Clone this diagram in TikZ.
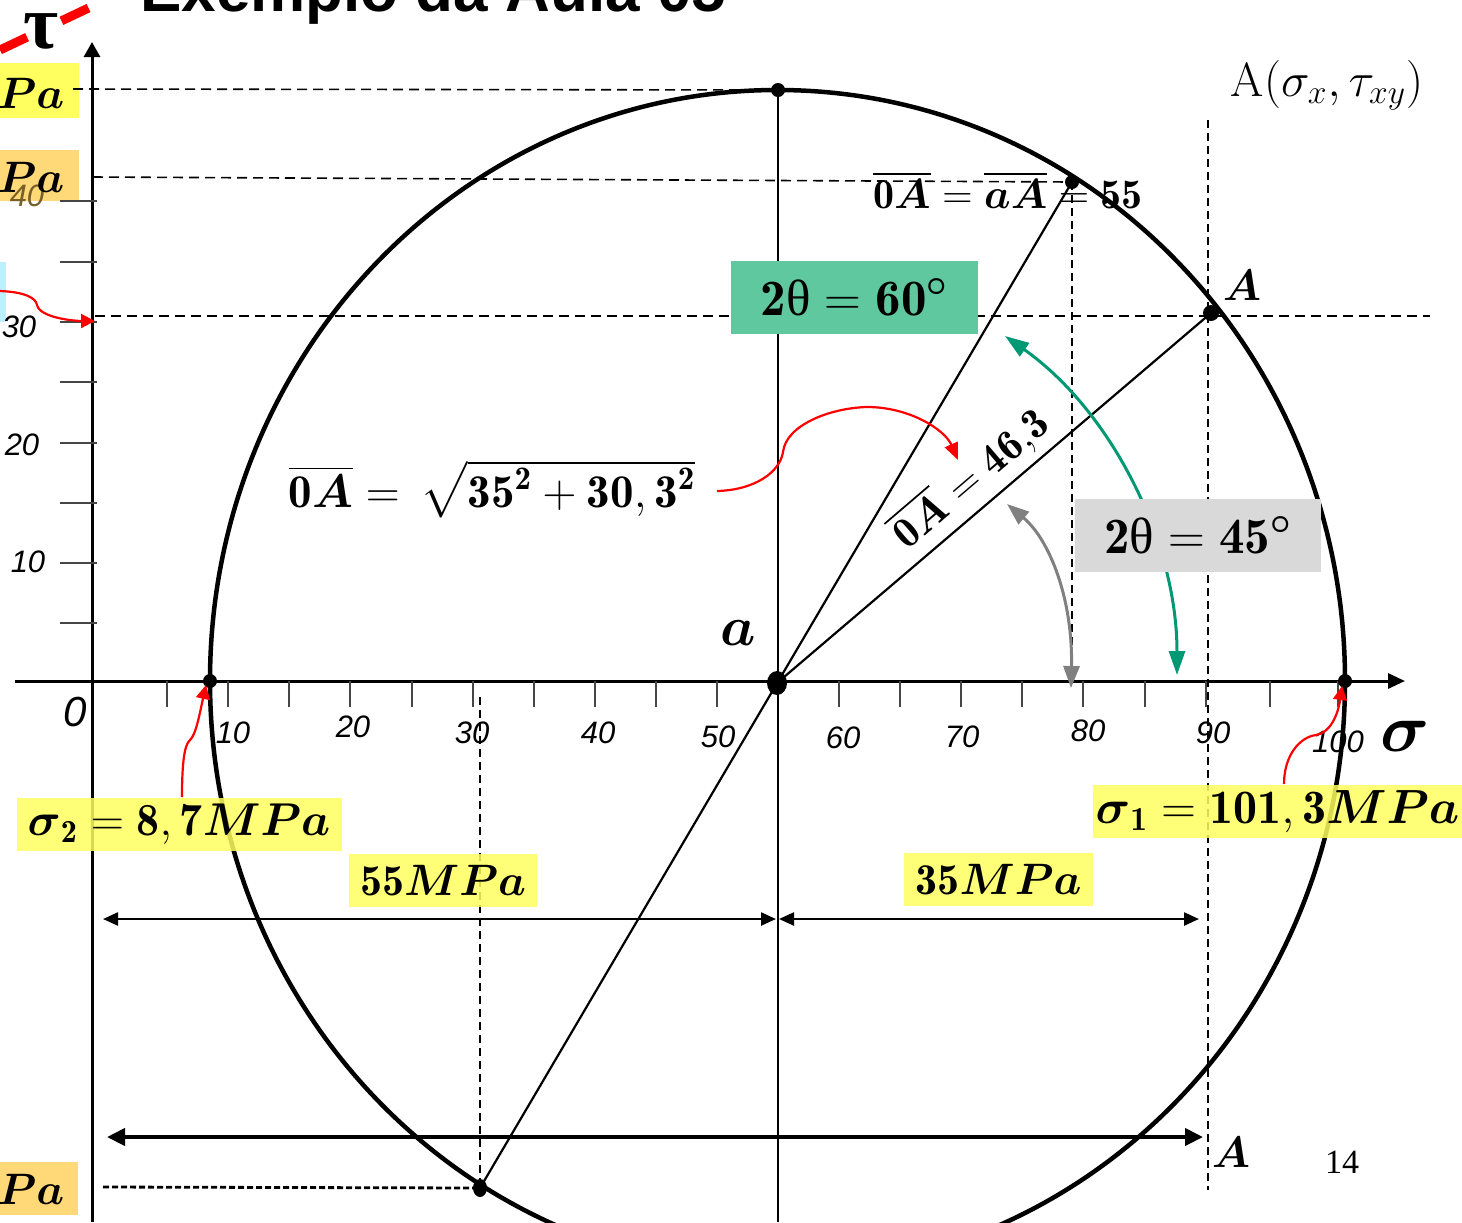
\RequirePackage{fix-cm}
\documentclass[tikz,border=0pt]{standalone}
\usepackage{amsmath,amssymb}
\usepackage{fontspec}
\usetikzlibrary{arrows.meta}
\newfontfamily\arialf{Liberation Sans}
\newfontfamily\timesf{Liberation Serif}
\definecolor{hlyellow}{RGB}{255,255,95}
\definecolor{hlorange}{RGB}{255,216,120}
\definecolor{hlgreen}{RGB}{95,200,158}
\definecolor{hlgrey}{RGB}{217,217,217}
\definecolor{tealc}{RGB}{0,153,115}
\definecolor{lblue}{RGB}{190,238,255}
\definecolor{tickgrey}{RGB}{70,70,70}
\definecolor{arrgrey}{RGB}{128,128,128}
\definecolor{dimbrown}{RGB}{120,95,40}
\begin{document}
\begin{tikzpicture}[x=0.5pt,y=-0.5pt,
  axisnum/.style={font=\arialf\itshape\fontsize{15.5}{18}\selectfont, inner sep=0pt},
  dline/.style={line width=0.8pt, dash pattern=on 5pt off 3pt},
  vdline/.style={line width=0.6pt, dash pattern=on 4pt off 2.5pt},
  tickline/.style={line width=0.75pt, draw=tickgrey},
  mlabel/.style={font=\fontsize{22}{26}\selectfont, inner sep=0pt},
  ybox/.style={fill=hlyellow, fill opacity=0.85, text opacity=1, inner sep=0pt, font=\fontsize{22}{26}\selectfont},
  redarrow/.style={draw=red, line width=1.1pt, -{Triangle[length=7pt,width=7pt]}},
  dimarrow/.style={line width=1.2pt, {Triangle[length=7.5pt,width=6.5pt]}-{Triangle[length=7.5pt,width=6.5pt]}},
  ptdot/.style={fill=black},
]
\useasboundingbox (0,0) rectangle (1462,1222);

% title and tau
\node[anchor=base west, inner sep=0pt, font=\arialf\bfseries\fontsize{31}{36}\selectfont] (title) at (140,11) {Exemplo da Aula 05};
\coordinate (redA) at (0,50);
\coordinate (redB) at (97,4);
\draw[red, line width=4.5pt, dash pattern=on 15pt off 19pt] (redA) -- (redB);
\node[inner sep=0pt, font=\timesf\bfseries\fontsize{38}{40}\selectfont] (tau) at (41,31) {τ};

% left side boxes
\node[fill=hlyellow, inner sep=0pt, minimum width=39.5pt, minimum height=27.5pt] (pabox1) at (39.5,90.5) {};
\node[fill=hlorange, inner sep=0pt, minimum width=39.5pt, minimum height=25.5pt] (pabox2) at (39.5,175.5) {};
\node[fill=hlorange, inner sep=0pt, minimum width=39pt, minimum height=26.5pt] (pabox3) at (39,1188.5) {};
\node[fill=lblue, inner sep=0pt, minimum width=3pt, minimum height=30pt] (bluebox) at (3,292) {};
\node[axisnum, text=dimbrown] (t40) at (27,196) {40};
\node[mlabel] (pa1) at (31,93) {$\boldsymbol{Pa}$};
\node[mlabel] (pa2) at (31,177) {$\boldsymbol{Pa}$};
\node[mlabel] (pa3) at (31,1189) {$\boldsymbol{Pa}$};

% key points
\coordinate (C) at (777,683);
\coordinate (T) at (778,90);
\coordinate (P60) at (1072,182);
\coordinate (A) at (1211,313);
\coordinate (S2) at (210,681);
\coordinate (S1) at (1345,681);
\coordinate (B) at (480,1188);
\coordinate (Bot) at (778,1222);

% dashed lines
\coordinate (dl1) at (73,89);
\coordinate (dl2) at (93,177);
\coordinate (dl3) at (95,316);
\coordinate (dl3e) at (1430,316);
\coordinate (P60b) at (1072,681);
\coordinate (vA1) at (1208,120);
\coordinate (vA2) at (1208,1190);
\coordinate (v30) at (480,697);
\coordinate (db1) at (103,1187);
\draw[dline] (dl1) -- (T);
\draw[dline] (dl2) -- (P60);
\draw[dline] (dl3) -- (dl3e);
\draw[vdline] (P60) -- (P60b);
\draw[vdline] (vA1) -- (vA2);
\draw[vdline] (v30) -- (B);
\draw[line width=1.4pt, dash pattern=on 3pt off 1.5pt] (db1) -- (B);

% axes
\coordinate (sx0) at (15,681);
\coordinate (sx1) at (1405,681);
\coordinate (ty0) at (92,1222);
\coordinate (ty1) at (92,42);
\draw[line width=1.5pt, -{Triangle[length=8.5pt,width=7.5pt]}] (sx0) -- (sx1);
\draw[line width=1.5pt, -{Triangle[length=7.5pt,width=8pt]}] (ty0) -- (ty1);
\foreach \x in {167,228,289,350,412,473,534,595,656,717,839,900,961,1022,1083,1145,1206,1270,1338}
  \draw[tickline] (\x,681) -- (\x,707);
\foreach \y in {201,262,322,382,443,503,563,623}
  \draw[tickline] (60,\y) -- (97,\y);

\node[axisnum] (s10) at (233,733) {10};
\node[axisnum] (s20) at (353,727) {20};
\node[axisnum] (s30) at (472,733) {30};
\node[axisnum] (s40) at (598,733) {40};
\node[axisnum] (s50) at (718,737) {50};
\node[axisnum] (s60) at (843,738) {60};
\node[axisnum] (s70) at (962,737) {70};
\node[axisnum] (s80) at (1088,731) {80};
\node[axisnum] (s90) at (1213,733) {90};
\node[axisnum] (s100) at (1338,742) {100};
\node[axisnum] (t30) at (19,327) {30};
\node[axisnum] (t20) at (22,445) {20};
\node[axisnum] (t10) at (28,562) {10};
\node[axisnum, font=\arialf\itshape\fontsize{21}{24}\selectfont] (orig) at (75,712) {0};
\node[inner sep=0pt, font=\fontsize{34}{38}\selectfont] (sig) at (1405,736) {$\boldsymbol{\sigma}$};

% Mohr circle
\draw[line width=2.25pt] (777.5,681) ellipse [x radius=567.5, y radius=591];
\draw[line width=1.2pt] (T) -- (Bot);
\draw[line width=1.1pt] (P60) -- (B);
\draw[line width=1.1pt] (C) -- (A);

\fill[ptdot] (T) circle (7);
\fill[ptdot] (P60) circle (7);
\fill[ptdot] (A) circle (8);
\fill[ptdot] (S2) circle (7);
\fill[ptdot] (S1) circle (7);
\fill[ptdot] (C) ellipse [x radius=10, y radius=12];
\fill[ptdot] (B) ellipse [x radius=7, y radius=9];

% dimension arrows
\coordinate (d1a) at (103,919);
\coordinate (d1b) at (776,919);
\coordinate (d2a) at (779,919);
\coordinate (d2b) at (1199,919);
\coordinate (d3a) at (107,1137);
\coordinate (d3b) at (1203,1137);
\draw[dimarrow] (d1a) -- (d1b);
\draw[dimarrow] (d2a) -- (d2b);
\draw[line width=2pt, {Triangle[length=9pt,width=8.5pt]}-{Triangle[length=9pt,width=8.5pt]}] (d3a) -- (d3b);

% angle arrows
\coordinate (te1) at (1005,336);
\coordinate (te2) at (1177,675);
\draw[tealc, line width=1.5pt, {Triangle[length=12pt,width=8pt]}-{Triangle[length=12pt,width=8pt]}]
  (te1) .. controls (1110,410) and (1177,540) .. (te2);
\coordinate (gr1) at (1007,504);
\coordinate (gr2) at (1071,688);
\draw[arrgrey, line width=1.5pt, {Triangle[length=11pt,width=8pt]}-{Triangle[length=11pt,width=8pt]}]
  (gr1) .. controls (1050,540) and (1073,600) .. (gr2);

% red arrows
\coordinate (r1s) at (0,291);
\coordinate (r1e) at (95,321);
\draw[redarrow] (r1s) .. controls (25,292) and (36,298) .. (37,305) .. controls (40,318) and (75,321) .. (r1e);
\coordinate (r2s) at (182,797);
\coordinate (r2e) at (206,685);
\draw[redarrow] (r2s) .. controls (182,765) and (184,745) .. (190,740) .. controls (196,735) and (200,712) .. (r2e);
\coordinate (r3s) at (1284,784);
\coordinate (r3e) at (1342,686);
\draw[redarrow] (r3s) .. controls (1284,755) and (1300,737) .. (1316,735) .. controls (1330,733) and (1338,715) .. (r3e);
\coordinate (r4s) at (717,491);
\coordinate (r4e) at (958,460);
\draw[redarrow, -{Triangle[length=8.5pt,width=7pt]}] (r4s) .. controls (755,490) and (780,472) .. (783,452) .. controls (786,425) and (830,408) .. (867,407) .. controls (910,407) and (945,430) .. (r4e);

% text labels
\node[inner sep=0pt, font=\fontsize{24}{28}\selectfont] (Axy) at (1327,85) {$\mathrm{A}(\sigma_x,\tau_{xy})$};
\node[mlabel] (Alab) at (1242,285) {$\boldsymbol{A}$};
\node[mlabel] (Alab2) at (1231,1152) {$\boldsymbol{A}$};
\node[inner sep=0pt, font=\timesf\fontsize{17}{20}\selectfont] (pg) at (1342,1162) {14};
\node[inner sep=0pt, font=\fontsize{28}{30}\selectfont] (alab) at (738,633) {$\boldsymbol{a}$};
\node[inner sep=0pt, font=\fontsize{21}{26}\selectfont] (eq55) at (1008,190)
  {$\overline{\mathbf{0}\boldsymbol{A}}=\overline{\boldsymbol{aA}}=\mathbf{55}$};
\node[inner sep=0pt, font=\fontsize{23.5}{27}\selectfont] (eqroot) at (492,489)
  {$\overline{\mathbf{0}\boldsymbol{A}}=\,\sqrt{\mathbf{35}^{\mathbf{2}}+\mathbf{30,3}^{\mathbf{2}}}$};
\node[inner sep=0pt, rotate=40.5, font=\fontsize{21.5}{26}\selectfont] (eq463) at (970,478)
  {$\overline{\mathbf{0}\boldsymbol{A}}=\mathbf{46{,}3}$};

% highlighted boxes
\node[ybox, minimum width=162.5pt, minimum height=26.5pt, font=\fontsize{23}{26}\selectfont] (sig2) at (179,824.5)
  {$\boldsymbol{\sigma}_{\mathbf{2}}=\mathbf{8,7}\boldsymbol{MPa}$};
\node[ybox, minimum width=94pt, minimum height=26.5pt] (m55) at (443,880.5)
  {$\mathbf{55}\boldsymbol{MPa}$};
\node[ybox, minimum width=94.5pt, minimum height=26.5pt] (m35) at (998.5,879.5)
  {$\mathbf{35}\boldsymbol{MPa}$};
\node[ybox, minimum width=184.5pt, minimum height=26.5pt, font=\fontsize{24}{27}\selectfont] (sig1) at (1277.5,811.5)
  {$\boldsymbol{\sigma}_{\mathbf{1}}=\mathbf{101,3}\boldsymbol{MPa}$};
\node[fill=hlgreen, inner sep=0pt, minimum width=123.5pt, minimum height=36.5pt, font=\fontsize{25.5}{28}\selectfont] (ang60) at (854.5,297.5)
  {$\mathbf{2}\text{\timesf θ}=\mathbf{60}^{\boldsymbol{\circ}}$};
\node[fill=hlgrey, inner sep=0pt, minimum width=123pt, minimum height=36.5pt, font=\fontsize{25.5}{28}\selectfont] (ang45) at (1198,535.5)
  {$\mathbf{2}\text{\timesf θ}=\mathbf{45}^{\boldsymbol{\circ}}$};
\end{tikzpicture}
\end{document}
